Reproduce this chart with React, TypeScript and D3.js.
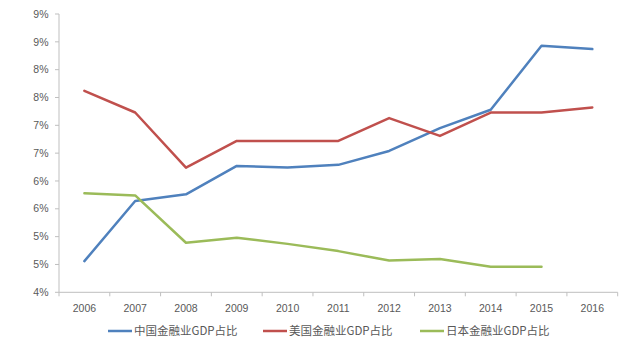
import React from "react";
import * as d3 from "d3";

const years = ["2006","2007","2008","2009","2010","2011","2012","2013","2014","2015","2016"];
const chinaValues = [4.56, 5.64, 5.76, 6.27, 6.24, 6.29, 6.54, 6.95, 7.28, 8.43, 8.37];
const usValues = [7.62, 7.23, 6.24, 6.72, 6.72, 6.72, 7.13, 6.81, 7.23, 7.23, 7.32];
const japanValues = [5.78, 5.74, 4.89, 4.98, 4.87, 4.74, 4.57, 4.60, 4.46, 4.46];
const yTickValues = [4, 4.5, 5, 5.5, 6, 6.5, 7, 7.5, 8, 8.5, 9];
const yTickLabels = ["4%","5%","5%","6%","6%","7%","7%","8%","8%","9%","9%"];
const seriesNames = ["中国金融业GDP占比", "美国金融业GDP占比", "日本金融业GDP占比"];
const seriesColors = ["#4f81bd", "#c0504d", "#9bbb59"];

export default function App() {
  const W = 640, H = 362;
  const left = 59, right = 617.7, top = 14, bottom = 292.3;
  const x = d3.scaleBand<string>().domain(years).range([left, right]);
  const y = d3.scaleLinear().domain([4, 9]).range([bottom, top]);
  const cx = (i: number) => (x(years[i]) ?? 0) + x.bandwidth() / 2;
  const line = d3.line<number>().x((_, i) => cx(i)).y((d) => y(d));
  const series = [chinaValues, usValues, japanValues];
  const axisColor = "#bfbfbf";
  const textColor = "#595959";
  const font = "'Liberation Sans', Arial, sans-serif";
  const legendX = [108, 263, 420];
  const legendY = 331;

  const boundaries = [...years.map((yr) => x(yr) ?? 0), right];

  return (
    <svg width={W} height={H} style={{ position: "absolute", left: 0, top: 0, background: "#fff" }}>
      <rect x={0} y={0} width={W} height={H} fill="#fff" />
      {/* y axis */}
      <line x1={left} x2={left} y1={top} y2={bottom} stroke={axisColor} strokeWidth={1} />
      {yTickValues.map((v, i) => (
        <g key={"yt" + i}>
          <line x1={left - 4} x2={left} y1={y(v)} y2={y(v)} stroke={axisColor} />
          <text x={48.5} y={y(v)} dy="0.35em" textAnchor="end" fontSize={10.5} fontFamily={font} fill={textColor}>
            {yTickLabels[i]}
          </text>
        </g>
      ))}
      {/* x axis */}
      <line x1={left} x2={right} y1={bottom} y2={bottom} stroke={axisColor} strokeWidth={1} />
      {boundaries.map((b, i) => (
        <line key={"xt" + i} x1={b} x2={b} y1={bottom} y2={bottom + 4} stroke={axisColor} />
      ))}
      {years.map((yr, i) => (
        <text key={yr} x={cx(i)} y={308} dy="0.35em" textAnchor="middle" fontSize={10.5} fontFamily={font} fill={textColor}>
          {yr}
        </text>
      ))}
      {/* lines */}
      {series.map((s, k) => (
        <path key={"s" + k} d={line(s) ?? ""} fill="none" stroke={seriesColors[k]} strokeWidth={2.5} strokeLinejoin="round" strokeLinecap="round" />
      ))}
      {/* legend */}
      {seriesNames.map((n, k) => (
        <g key={"lg" + k}>
          <line x1={legendX[k]} x2={legendX[k] + 24} y1={legendY} y2={legendY} stroke={seriesColors[k]} strokeWidth={2.5} />
          <text x={legendX[k] + 26} y={legendY} dy="0.35em" fontSize={11.5} fontFamily="'Noto Sans CJK SC', sans-serif" fill={textColor}>
            {n}
          </text>
        </g>
      ))}
    </svg>
  );
}
